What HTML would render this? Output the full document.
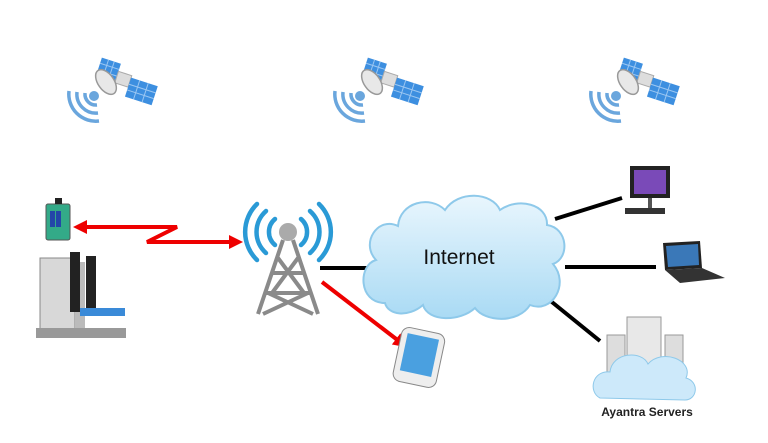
<!DOCTYPE html>
<html><head><meta charset="utf-8"><style>
html,body{margin:0;padding:0;background:#fff;width:768px;height:443px;overflow:hidden}
</style></head><body>
<svg width="768" height="443" viewBox="0 0 768 443" xmlns="http://www.w3.org/2000/svg" font-family="Liberation Sans, sans-serif">
<defs>
<g id="sat">
  <g transform="rotate(18 0 0)">
    <rect x="0" y="-32" width="20" height="20" fill="#3d8fe0"/>
    <path d="M0 -26h20M0 -19h20M7 -32v20M13 -32v20" stroke="#9cc7f2" stroke-width="1"/>
    <rect x="20" y="-24" width="14" height="12" fill="#ddd" stroke="#aaa"/>
    <rect x="34" y="-22" width="28" height="20" fill="#3d8fe0"/>
    <path d="M34 -15h28M34 -9h28M43 -22v20M52 -22v20" stroke="#9cc7f2" stroke-width="1"/>
  </g>
  <ellipse cx="14" cy="-6" rx="8" ry="14" transform="rotate(-35 14 -6)" fill="#e8e8e8" stroke="#999" stroke-width="1.5"/>
  <circle cx="2" cy="8" r="5" fill="#6aa6dd"/>
  <path d="M-7 5 A11 11 0 0 0 5 17" fill="none" stroke="#6aa6dd" stroke-width="3.5"/>
  <path d="M-15 4 A19 19 0 0 0 6 25" fill="none" stroke="#6aa6dd" stroke-width="3.5"/>
  <path d="M-23 3 A27 27 0 0 0 7 33" fill="none" stroke="#6aa6dd" stroke-width="3.5"/>
</g>
<marker id="ar2" markerWidth="14" markerHeight="14" refX="10" refY="7" orient="auto" markerUnits="userSpaceOnUse">
 <path d="M0 0L14 7L0 14z" fill="#e00"/></marker>
<linearGradient id="cl" x1="0" y1="0" x2="0" y2="1"><stop offset="0" stop-color="#e9f6fd"/><stop offset="1" stop-color="#a9daf4"/></linearGradient>
</defs>
<use href="#sat" x="92" y="88"/>
<use href="#sat" x="358" y="88"/>
<use href="#sat" x="614" y="88"/>

<g stroke="#000" stroke-width="4">
<line x1="320" y1="268" x2="372" y2="268"/>
<line x1="555" y1="219" x2="622" y2="198"/>
<line x1="565" y1="267" x2="656" y2="267"/>
<line x1="542" y1="294" x2="600" y2="341"/>
</g>
<line x1="322" y1="282" x2="404" y2="345" stroke="#e00" stroke-width="4" marker-end="url(#ar2)"/>
<path d="M236 242 H147 L177 227 H80" fill="none" stroke="#e00" stroke-width="4"/>
<path d="M243 242 L229 235 L229 249z" fill="#e00"/>
<path d="M73 227 L87 220 L87 234z" fill="#e00"/>

<path d="M385 303 C358 303 358 265 376 260 C360 243 378 216 398 226 C400 202 430 195 445 210 C458 190 492 192 500 210 C518 197 548 204 547 225 C568 228 570 258 553 264 C570 284 552 314 530 305 C518 324 485 322 475 308 C460 322 428 322 423 305 C408 318 388 315 385 303Z" fill="url(#cl)" stroke="#8ec9ea" stroke-width="2"/>
<text x="459" y="264" font-size="21" text-anchor="middle" fill="#111">Internet</text>

<g fill="none" stroke="#8a8a8a" stroke-width="4">
<path d="M283 240 L258 314 M293 240 L318 314 M272 273 H304 M266 293 H310 M278 258 L304 293 M298 258 L272 293 M268 293 L313 314 M308 293 L263 314"/>
</g>
<circle cx="288" cy="232" r="9" fill="#aaa"/>
<g fill="none" stroke="#2a9ad6" stroke-width="4.5" stroke-linecap="round">
<path d="M275 219 A17 17 0 0 0 275 245"/><path d="M301 219 A17 17 0 0 1 301 245"/>
<path d="M266 211 A28 28 0 0 0 266 253"/><path d="M310 211 A28 28 0 0 1 310 253"/>
<path d="M257 204 A39 39 0 0 0 257 260"/><path d="M319 204 A39 39 0 0 1 319 260"/>
</g>

<rect x="46" y="204" width="24" height="36" rx="2" fill="#3a8" stroke="#555"/>
<rect x="50" y="211" width="5" height="16" fill="#2346a8"/><rect x="56" y="211" width="5" height="16" fill="#2346a8"/>
<rect x="55" y="198" width="7" height="6" fill="#222"/>
<rect x="40" y="258" width="35" height="72" fill="#d8d8d8" stroke="#888"/>
<rect x="75" y="262" width="10" height="66" fill="#bbb"/>
<rect x="70" y="252" width="10" height="60" fill="#222"/><rect x="86" y="256" width="10" height="56" fill="#222"/>
<rect x="80" y="308" width="45" height="8" fill="#3a8ad8"/>
<rect x="36" y="328" width="90" height="10" fill="#999"/>

<rect x="397" y="330" width="44" height="55" rx="8" transform="rotate(12 419 357)" fill="#eee" stroke="#888"/>
<rect x="403" y="336" width="32" height="38" transform="rotate(12 419 357)" fill="#4aa0e0"/>

<rect x="630" y="166" width="40" height="32" fill="#222"/>
<rect x="634" y="170" width="32" height="24" fill="#7a4ab8"/>
<rect x="648" y="198" width="4" height="10" fill="#555"/>
<rect x="625" y="208" width="40" height="6" fill="#333"/>
<path d="M663 243 L700 241 L702 268 L665 270Z" fill="#222"/>
<path d="M666 246 L698 244 L699 265 L668 267Z" fill="#3a78b8"/>
<path d="M665 270 L702 268 L725 278 L680 283Z" fill="#333"/>

<rect x="607" y="335" width="18" height="40" fill="#ddd" stroke="#999"/>
<rect x="665" y="335" width="18" height="40" fill="#ddd" stroke="#999"/>
<rect x="627" y="317" width="34" height="60" fill="#e8e8e8" stroke="#999"/>
<path d="M600 398 C588 392 592 370 610 372 C612 352 642 350 648 364 C662 348 694 360 686 378 C700 382 697 400 685 400Z" fill="#cde9fa" stroke="#8ec9ea"/>
<text x="647" y="416" font-size="12" font-weight="bold" text-anchor="middle" fill="#222">Ayantra Servers</text>
</svg>
</body></html>
